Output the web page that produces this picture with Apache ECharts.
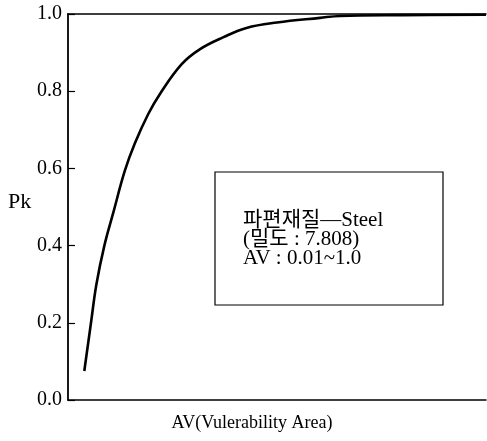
<!DOCTYPE html>
<html>
<head>
<meta charset="utf-8">
<script src="https://cdn.jsdelivr.net/npm/echarts@6/dist/echarts.min.js"></script>
<style>
  html, body { margin: 0; padding: 0; background: #fff; }
  #chart { width: 487px; height: 441px; }
</style>
</head>
<body>
<div id="chart"></div>
<script>
// AV (vulnerability area) vs Pk
var avValues = [0.039, 0.055, 0.068, 0.087, 0.108, 0.136, 0.16, 0.192, 0.22, 0.272, 0.316, 0.372, 0.427, 0.5, 0.603, 0.651, 0.8, 1.0];
var pkValues = [0.075, 0.2, 0.3, 0.4, 0.484, 0.594, 0.665, 0.741, 0.793, 0.87, 0.909, 0.94, 0.964, 0.978, 0.99, 0.995, 0.997, 0.998];
var yTicks = ['0.0', '0.2', '0.4', '0.6', '0.8', '1.0'];
var noteLines = ['파편재질—Steel', '(밀도 : 7.808)', 'AV : 0.01~1.0'];

var serif = '"Liberation Serif", "Noto Sans CJK KR", serif';

var chart = echarts.init(document.getElementById('chart'));
chart.setOption({
    backgroundColor: '#fff',
    animation: false,
    grid: { left: 68, right: 1, top: 14, bottom: 41 },
    xAxis: [{
        type: 'value', min: 0, max: 1,
        axisLine: { lineStyle: { color: '#000', width: 1.5 } },
        axisTick: { show: false },
        axisLabel: { show: false },
        splitLine: { show: false },
        name: 'AV(Vulerability Area)',
        nameLocation: 'middle',
        nameGap: 14,
        nameTextStyle: { color: '#000', fontFamily: serif, fontSize: 18, verticalAlign: 'top', padding: [0, 50, 0, 0] }
    }, {
        type: 'value', min: 0, max: 1, position: 'top',
        axisLine: { onZero: false, lineStyle: { color: '#000', width: 1.5 } },
        axisTick: { show: false },
        axisLabel: { show: false },
        splitLine: { show: false }
    }],
    yAxis: {
        type: 'value', min: 0, max: 1, interval: 0.2,
        axisLine: { show: true, lineStyle: { color: '#000', width: 1.8 } },
        axisTick: { show: true, inside: true, length: 7, lineStyle: { color: '#000', width: 1.2 } },
        axisLabel: {
            color: '#000', fontFamily: serif, fontSize: 20, margin: 6,
            formatter: function (v) { return yTicks[Math.round(v * 5)]; }
        },
        splitLine: { show: false }
    },
    series: [{
        type: 'line',
        smooth: 0.4,
        symbol: 'none',
        data: avValues.map(function (x, i) { return [x, pkValues[i]]; }),
        lineStyle: { color: '#000', width: 2.6 }
    }],
    graphic: [{
        type: 'text',
        x: 8, y: 202,
        style: { text: 'Pk', font: '22px ' + serif, fill: '#000', verticalAlign: 'middle' }
    }, {
        type: 'rect',
        shape: { x: 215, y: 172, width: 228, height: 133 },
        style: { fill: '#fff', stroke: '#000', lineWidth: 1.2 }
    }, {
        type: 'text',
        x: 243, y: 211,
        style: {
            text: noteLines.join('\n'),
            font: '21px ' + serif,
            lineHeight: 19,
            fill: '#000'
        }
    }]
});
</script>
</body>
</html>
